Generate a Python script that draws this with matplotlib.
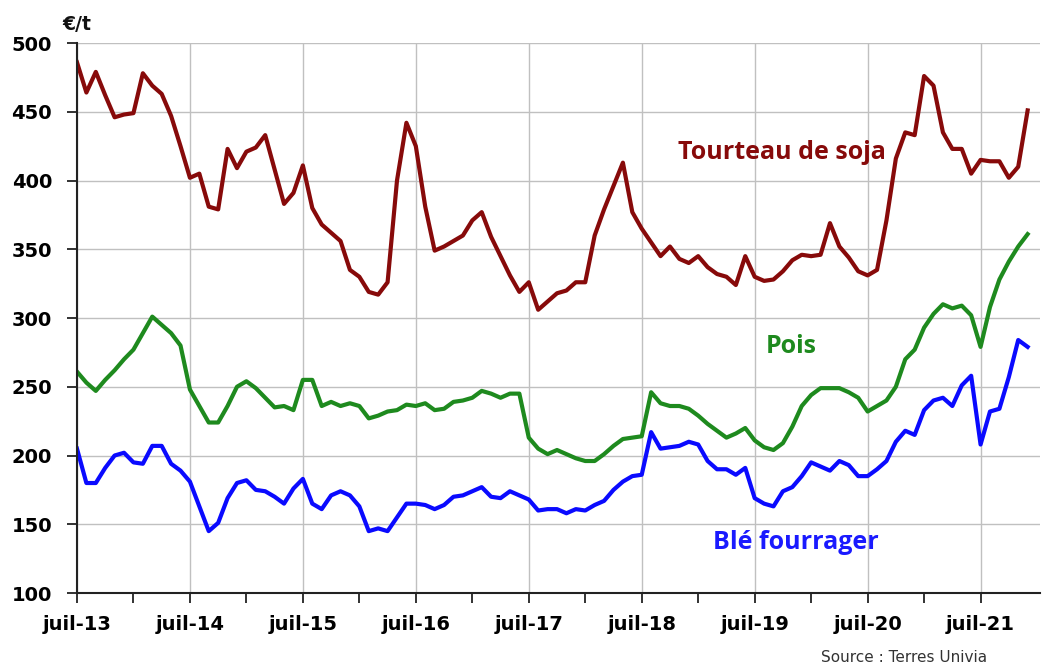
import numpy as np
import matplotlib
matplotlib.use("Agg")
import matplotlib.pyplot as plt

# monthly prices, juil-13 .. dec-21 (EUR/t)
soja = [486, 464, 479, 462, 446, 448, 449, 478, 469, 463, 447, 425,
        402, 405, 381, 379, 423, 409, 421, 424, 433, 408, 383, 391,
        411, 380, 368, 362, 356, 335, 330, 319, 317, 326, 400, 442,
        425, 381, 349, 352, 356, 360, 371, 377, 359, 345, 331, 319,
        326, 306, 312, 318, 320, 326, 326, 360, 379, 396, 413, 377,
        365, 355, 345, 352, 343, 340, 345, 337, 332, 330, 324, 345,
        330, 327, 328, 334, 342, 346, 345, 346, 369, 352, 344, 334,
        331, 335, 371, 416, 435, 433, 476, 469, 435, 423, 423, 405,
        415, 414, 414, 402, 410, 451]
pois = [261, 253, 247, 255, 262, 270, 277, 289, 301, 295, 289, 280,
        248, 236, 224, 224, 236, 250, 254, 249, 242, 235, 236, 233,
        255, 255, 236, 239, 236, 238, 236, 227, 229, 232, 233, 237,
        236, 238, 233, 234, 239, 240, 242, 247, 245, 242, 245, 245,
        213, 205, 201, 204, 201, 198, 196, 196, 201, 207, 212, 213,
        214, 246, 238, 236, 236, 234, 229, 223, 218, 213, 216, 220,
        211, 206, 204, 209, 221, 236, 244, 249, 249, 249, 246, 242,
        232, 236, 240, 250, 270, 277, 293, 303, 310, 307, 309, 302,
        279, 308, 328, 341, 352, 361]
ble = [205, 180, 180, 191, 200, 202, 195, 194, 207, 207, 194, 189,
       181, 163, 145, 151, 169, 180, 182, 175, 174, 170, 165, 176,
       183, 165, 161, 171, 174, 171, 163, 145, 147, 145, 155, 165,
       165, 164, 161, 164, 170, 171, 174, 177, 170, 169, 174, 171,
       168, 160, 161, 161, 158, 161, 160, 164, 167, 175, 181, 185,
       186, 217, 205, 206, 207, 210, 208, 196, 190, 190, 186, 191,
       169, 165, 163, 174, 177, 185, 195, 192, 189, 196, 193, 185,
       185, 190, 196, 210, 218, 215, 233, 240, 242, 236, 251, 258,
       208, 232, 234, 257, 284, 279]
year_labels = ["juil-13", "juil-14", "juil-15", "juil-16", "juil-17",
               "juil-18", "juil-19", "juil-20", "juil-21"]

months = np.arange(len(soja))

fig = plt.figure(figsize=(10.43, 6.66), dpi=100)
ax = fig.add_axes([0.0738, 0.1096, 0.9232, 0.8258])

ax.plot(months, soja, color="#870a0a", lw=3, solid_joinstyle="round")
ax.plot(months, pois, color="#1e8a1e", lw=3, solid_joinstyle="round")
ax.plot(months, ble, color="#0a0aff", lw=3, solid_joinstyle="round")

ax.set_xlim(0, 102.3)
ax.set_ylim(100, 500)

ax.set_yticks(np.arange(100, 501, 50))
ax.set_xticks(np.arange(0, 12 * len(year_labels), 12))
ax.set_xticklabels(year_labels)
ax.set_xticks(np.arange(6, 102, 12), minor=True)

tick_font = dict(family="DejaVu Sans", weight="bold", size=14)
for lab in ax.get_xticklabels() + ax.get_yticklabels():
    lab.set_fontproperties(matplotlib.font_manager.FontProperties(**tick_font))
ax.tick_params(axis="both", which="both", direction="out", length=7,
               width=1.3, color="#222222")
ax.tick_params(axis="x", pad=9)
ax.tick_params(axis="y", pad=11)

ax.grid(True, which="major", color="#c0c0c0", lw=1)
ax.set_axisbelow(True)
for side in ["top", "right"]:
    ax.spines[side].set_visible(False)
for side in ["left", "bottom"]:
    ax.spines[side].set_color("#222222")
    ax.spines[side].set_linewidth(1.5)

lab_font = dict(family="Open Sans", weight="bold", size=18,
                ha="center", va="center")
ax.text(74.9, 420.7, "Tourteau de soja", color="#870a0a", **lab_font)
ax.text(75.9, 279, "Pois", color="#1e8a1e", **lab_font)
ax.text(76.4, 136.4, "Blé fourrager", color="#1a1aff", **lab_font)

fig.text(62 / 1043, 1 - 25 / 666, "€/t", family="DejaVu Sans",
         weight="bold", size=13.5, ha="left", va="center", color="#111111")
fig.text(987 / 1043, 1 - 657 / 666, "Source : Terres Univia",
         family="DejaVu Sans", size=11, ha="right", va="center",
         color="#333333")

fig.savefig("out.png", dpi=100)
